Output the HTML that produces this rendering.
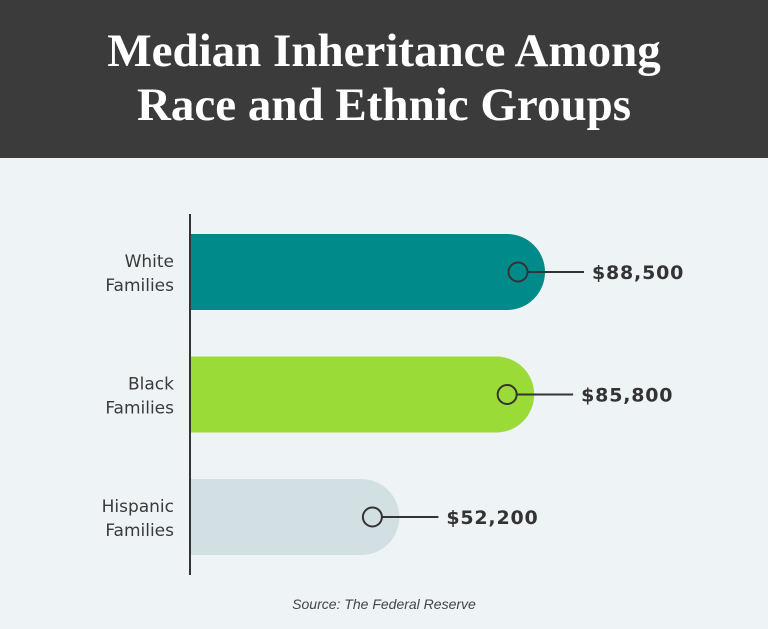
<!DOCTYPE html>
<html><head><meta charset="utf-8"><style>
html,body{margin:0;padding:0;}
body{width:768px;height:629px;background:#eef3f6;overflow:hidden;font-family:"Liberation Sans",sans-serif;}
#hdr{position:absolute;left:0;top:0;width:768px;height:158px;background:#3b3b3b;}
#title{position:absolute;left:0;top:24px;width:768px;text-align:center;color:#fff;font-family:"Liberation Serif",serif;font-weight:bold;font-size:47px;line-height:54px;}
</style></head><body>
<div id="hdr"></div>
<div id="title">Median Inheritance Among<br>Race and Ethnic Groups</div>
<svg id="chart" width="768" height="629" style="position:absolute;left:0;top:0"></svg>
<script>
const categories = [["White","Families"],["Black","Families"],["Hispanic","Families"]];
const values = [88500, 85800, 52200];
const valueLabels = ["$88,500","$85,800","$52,200"];
const colors = ["#008a8a","#9bdb38","#d2e0e4"];
const NS="http://www.w3.org/2000/svg";
const svg=document.getElementById('chart');
const x0=190, pxPer=355/88500;
const xScale=v=>x0+v*pxPer;
const yTop=i=>234+i*122.5, bh=76;
function mk(t,a){const e=document.createElementNS(NS,t);for(const k in a)e.setAttribute(k,a[k]);svg.appendChild(e);return e;}
values.forEach((v,i)=>{
  const xe=xScale(v), y=yTop(i), r=bh/2, cy=y+r;
  const p=mk('path',{d:`M${x0} ${y}H${xe-r}A${r} ${r} 0 0 1 ${xe-r} ${y+bh}H${x0}Z`,fill:colors[i]});
  
  
  const ln=mk('line',{x1:xe-17,y1:cy,x2:xe+39,y2:cy,stroke:'#333',"stroke-width":2});
  
  
  const c=mk('circle',{cx:xe-27,cy:cy,r:9.5,fill:colors[i],stroke:'#333',"stroke-width":2});
  
  
  const t=mk('text',{x:xe+47,y:cy+7,fill:'#333',"font-size":19,"font-weight":"bold","font-family":"DejaVu Sans, sans-serif","letter-spacing":"0.8"});
  t.textContent=valueLabels[i];
  
  
  categories[i].forEach((s,j)=>{
    const l=mk('text',{x:174,y:cy-5+j*24,fill:'#3a3a3a',"font-size":17,"text-anchor":"end","font-family":"DejaVu Sans, sans-serif"});
    l.textContent=s;
    
    
  });
});
const ax=mk('line',{x1:x0,y1:214,x2:x0,y2:575,stroke:'#333',"stroke-width":2});


const src=mk('text',{x:384,y:609,fill:'#444',"font-size":14,"font-style":"italic","text-anchor":"middle","font-family":"Liberation Sans, sans-serif"});
src.textContent='Source: The Federal Reserve';


</script>
</body></html>
